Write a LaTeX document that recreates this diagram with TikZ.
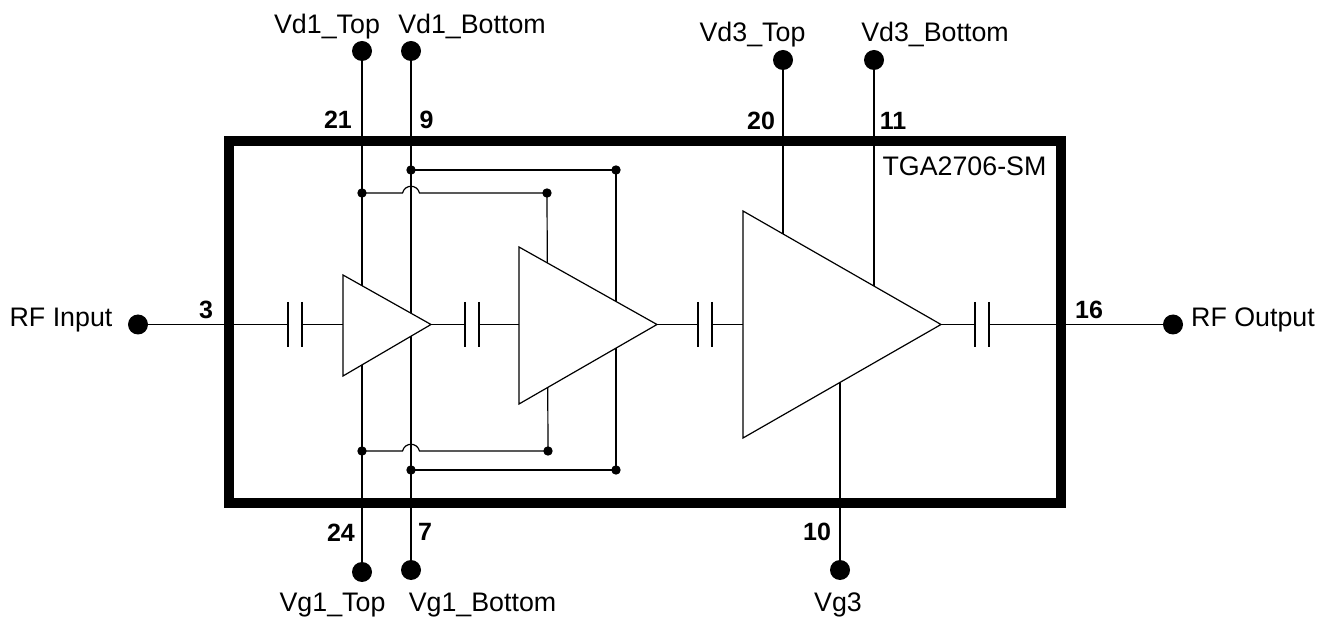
\documentclass[tikz,border=0pt]{standalone}
\usepackage{fontspec}
\setmainfont{Liberation Sans}
\usetikzlibrary{calc}
\tikzset{
	wire/.style={line width=1.2pt, black},
	amp/.style={line width=1.2pt, black, fill=white},
	chip/.style={line width=10pt, black, line join=miter},
	label/.style={inner sep=0pt, anchor=base, font=\fontsize{26.8}{30}\selectfont},
	pinnum/.style={inner sep=0pt, anchor=base, font=\fontsize{25}{30}\selectfont\bfseries},
}

\begin{document}
\begin{tikzpicture}[x=1pt, y=-1pt]
	\def\pinrad{10}
	\def\dotrad{4.7}
	\def\rfy{324.5}
	\def\capgap{7}

	\useasboundingbox (0,0) rectangle (1318,617);

	\coordinate (vd1t) at (362,51);
	\coordinate (vd1b) at (411,51);
	\coordinate (vd3t) at (783,60);
	\coordinate (vd3b) at (874,60);
	\coordinate (vg1t) at (362,572);
	\coordinate (vg1b) at (411,570);
	\coordinate (vg3) at (840,570);
	\coordinate (rfin) at (138,\rfy);
	\coordinate (rfout) at (1173,\rfy);

	\coordinate (j1) at (411,170);
	\coordinate (j2) at (616,170);
	\coordinate (j3) at (362,193);
	\coordinate (j4) at (547,193);
	\coordinate (j5) at (362,451);
	\coordinate (j6) at (548,451);
	\coordinate (j7) at (411,470);
	\coordinate (j8) at (616,470);

	\coordinate (a1a) at (343,275);
	\coordinate (a1b) at (343,376);
	\coordinate (a1o) at (431,\rfy);
	\coordinate (a1i) at (343,\rfy);
	\coordinate (a2a) at (519,247);
	\coordinate (a2b) at (519,404);
	\coordinate (a2o) at (657,\rfy);
	\coordinate (a2i) at (519,\rfy);
	\coordinate (a3a) at (743,211);
	\coordinate (a3b) at (743,438);
	\coordinate (a3o) at (941,\rfy);
	\coordinate (a3i) at (743,\rfy);

	\coordinate (c1) at (295,\rfy);
	\coordinate (c2) at (472,\rfy);
	\coordinate (c3) at (705,\rfy);
	\coordinate (c4) at (982,\rfy);

	% supply lines
	\draw[wire] (vd1t) -- (vg1t);
	\draw[wire] (vd1b) -- (vg1b);
	\draw[wire] (vd3t) -- (783,240);
	\draw[wire] (vd3b) -- (874,290);
	\draw[wire] (840,380) -- (vg3);
	\draw[wire] (j1) -- (j2) -- (j8) -- (j7);
	\draw[wire] (j3) -- ($(j1|-j3)+(-8.5,0)$) .. controls ($(j1|-j3)+(-6,-9)$) and ($(j1|-j3)+(6,-9)$) .. ($(j1|-j3)+(8.5,0)$) -- (j4) -- (j6);
	\draw[wire] (j5) -- ($(j1|-j5)+(-8.5,0)$) .. controls ($(j1|-j5)+(-6,-9)$) and ($(j1|-j5)+(6,-9)$) .. ($(j1|-j5)+(8.5,0)$) -- (j6);

	% rf path
	\draw[wire] (rfin) -- ($(c1)+(-\capgap,0)$);
	\draw[wire] ($(c1)+(\capgap,0)$) -- (a1i);
	\draw[wire] (a1o) -- ($(c2)+(-\capgap,0)$);
	\draw[wire] ($(c2)+(\capgap,0)$) -- (a2i);
	\draw[wire] (a2o) -- ($(c3)+(-\capgap,0)$);
	\draw[wire] ($(c3)+(\capgap,0)$) -- (a3i);
	\draw[wire] (a3o) -- ($(c4)+(-\capgap,0)$);
	\draw[wire] ($(c4)+(\capgap,0)$) -- (rfout);

	\draw[wire] ($(c1)+(-\capgap,-22.5)$) -- ($(c1)+(-\capgap,22.5)$);
	\draw[wire] ($(c1)+(\capgap,-22.5)$) -- ($(c1)+(\capgap,22.5)$);
	\draw[wire] ($(c2)+(-\capgap,-22.5)$) -- ($(c2)+(-\capgap,22.5)$);
	\draw[wire] ($(c2)+(\capgap,-22.5)$) -- ($(c2)+(\capgap,22.5)$);
	\draw[wire] ($(c3)+(-\capgap,-22.5)$) -- ($(c3)+(-\capgap,22.5)$);
	\draw[wire] ($(c3)+(\capgap,-22.5)$) -- ($(c3)+(\capgap,22.5)$);
	\draw[wire] ($(c4)+(-\capgap,-22.5)$) -- ($(c4)+(-\capgap,22.5)$);
	\draw[wire] ($(c4)+(\capgap,-22.5)$) -- ($(c4)+(\capgap,22.5)$);

	\draw[amp] (a1a) -- (a1o) -- (a1b) -- cycle;
	\draw[amp] (a2a) -- (a2o) -- (a2b) -- cycle;
	\draw[amp] (a3a) -- (a3o) -- (a3b) -- cycle;

	\draw[chip] (228.5,141) rectangle (1061,503);

	\fill (vd1t) circle (\pinrad);
	\fill (vd1b) circle (\pinrad);
	\fill (vd3t) circle (\pinrad);
	\fill (vd3b) circle (\pinrad);
	\fill (vg1t) circle (\pinrad);
	\fill (vg1b) circle (\pinrad);
	\fill (vg3) circle (\pinrad);
	\fill (rfin) circle (\pinrad);
	\fill (rfout) circle (\pinrad);

	\fill (j1) circle (\dotrad);
	\fill (j2) circle (\dotrad);
	\fill (j3) circle (\dotrad);
	\fill (j4) circle (\dotrad);
	\fill (j5) circle (\dotrad);
	\fill (j6) circle (\dotrad);
	\fill (j7) circle (\dotrad);
	\fill (j8) circle (\dotrad);

	\node[label] (vd1tlab) at (327,34) {Vd1\_Top};
	\node[label] (vd1blab) at (472,34) {Vd1\_Bottom};
	\node[label] (vd3tlab) at (752.5,42) {Vd3\_Top};
	\node[label] (vd3blab) at (935,42) {Vd3\_Bottom};
	\node[label] (vg1tlab) at (332.5,611) {Vg1\_Top};
	\node[label] (vg1blab) at (482.5,611) {Vg1\_Bottom};
	\node[label] (vg3lab) at (838,611) {Vg3};
	\node[label] (rfinlab) at (61,327) {RF Input};
	\node[label] (rfoutlab) at (1253,327) {RF Output};
	\node[label] (chiplab) at (964.5,176) {TGA2706-SM};

	\node[pinnum] (p21) at (338,129) {21};
	\node[pinnum] (p9) at (426.5,129) {9};
	\node[pinnum] (p20) at (761,130) {20};
	\node[pinnum] (p11) at (893,130) {11};
	\node[pinnum] (p3) at (206,319) {3};
	\node[pinnum] (p16) at (1089,319) {16};
	\node[pinnum] (p24) at (341,541) {24};
	\node[pinnum] (p7) at (425,540) {7};
	\node[pinnum] (p10) at (817,540) {10};
\end{tikzpicture}
\end{document}
